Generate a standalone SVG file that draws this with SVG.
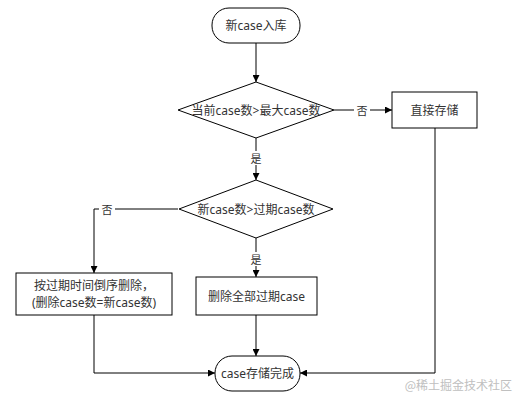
<svg xmlns="http://www.w3.org/2000/svg" width="524" height="401" viewBox="0 0 524 401">
<style>
.n{fill:#fff;stroke:#000;stroke-width:1}
.t{font-family:"Noto Sans","Noto Sans CJK SC",sans-serif;font-size:12px;fill:#333;text-anchor:middle;dominant-baseline:central}
.c{fill:none;stroke:#000;stroke-width:1}
.l{font-family:"Noto Sans","Noto Sans CJK SC",sans-serif;font-size:11px;fill:#333;text-anchor:middle;dominant-baseline:central}
</style>
<defs>
<marker id="a" viewBox="0 0 10 10" refX="10" refY="5" markerWidth="7" markerHeight="7" orient="auto" markerUnits="userSpaceOnUse">
<path d="M0,0 L10,5 L0,10 Z" fill="#000"/>
</marker>
</defs>
<rect width="524" height="401" fill="#fff"/>
<g id="connectors">
<path class="c" d="M256,43 V82" marker-end="url(#a)"/>
<path class="c" d="M334,110 H392" marker-end="url(#a)"/>
<rect x="354" y="103" width="16" height="14" fill="#fff"/>
<text class="l" x="362" y="110">否</text>
<path class="c" d="M256,138 V180" marker-end="url(#a)"/>
<rect x="249" y="151" width="14" height="14" fill="#fff"/>
<text class="l" x="256" y="158">是</text>
<path class="c" d="M178,209 H94 V273" marker-end="url(#a)"/>
<rect x="99" y="202" width="16" height="14" fill="#fff"/>
<text class="l" x="107" y="209">否</text>
<path class="c" d="M256,238 V277" marker-end="url(#a)"/>
<rect x="249" y="252" width="14" height="14" fill="#fff"/>
<text class="l" x="256" y="259">是</text>
<path class="c" d="M435,128 V373 H300" marker-end="url(#a)"/>
<path class="c" d="M94,315 V373 H215" marker-end="url(#a)"/>
<path class="c" d="M256,315 V356" marker-end="url(#a)"/>
</g>
<g id="start">
<rect class="n" x="212" y="8" width="88" height="35" rx="17" ry="17"/>
<text class="t" x="256" y="25.5">新case入库</text>
</g>
<g id="d1">
<polygon class="n" points="256,82 334,110 256,138 178,110"/>
<text class="t" x="256" y="110">当前case数&gt;最大case数</text>
</g>
<g id="direct">
<rect class="n" x="392" y="92" width="85" height="36"/>
<text class="t" x="434.5" y="110">直接存储</text>
</g>
<g id="d2">
<polygon class="n" points="256,180 333,209 256,238 179,209"/>
<text class="t" x="256" y="209">新case数&gt;过期case数</text>
</g>
<g id="partial">
<rect class="n" x="16" y="273" width="156" height="42"/>
<text class="t" x="94" y="285">按过期时间倒序删除，</text>
<text class="t" x="94" y="302">(删除case数=新case数)</text>
</g>
<g id="all">
<rect class="n" x="196" y="277" width="121" height="38"/>
<text class="t" x="256.5" y="296">删除全部过期case</text>
</g>
<g id="end">
<rect class="n" x="215" y="356" width="85" height="35" rx="17" ry="17"/>
<text class="t" x="257.5" y="373.5">case存储完成</text>
</g>
<text x="512" y="384" font-family="Noto Sans CJK SC,sans-serif" font-size="12" fill="#c0c0c0" text-anchor="end" dominant-baseline="central">@稀土掘金技术社区</text>
</svg>
